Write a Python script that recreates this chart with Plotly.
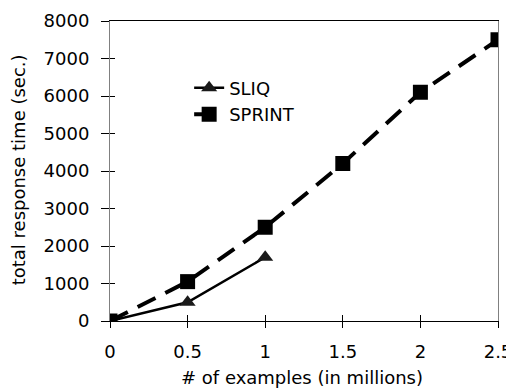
import plotly.graph_objects as go

x_sprint = [0, 0.5, 1, 1.5, 2, 2.5]
y_sprint = [0, 1050, 2500, 4200, 6100, 7500]
x_sliq = [0, 0.5, 1]
y_sliq = [0, 500, 1700]
x_ticks = [0, 0.5, 1, 1.5, 2, 2.5]
x_ticktext = ["0", "0.5", "1", "1.5", "2", "2.5"]
y_ticks = [0, 1000, 2000, 3000, 4000, 5000, 6000, 7000, 8000]

FONT = "DejaVu Sans"

fig = go.Figure()
fig.add_trace(go.Scatter(
    x=x_sliq, y=y_sliq, name="SLIQ", mode="lines+markers",
    line=dict(color="black", width=2.5),
    marker=dict(symbol="triangle-up", size=14, color="#1a1a1a"),
))
fig.add_trace(go.Scatter(
    x=x_sprint, y=y_sprint, name="SPRINT", mode="lines+markers",
    line=dict(color="black", width=4, dash="20px,11px"),
    marker=dict(symbol="square", size=15, color="black"),
))
# invisible trace to carry inside ticks
fig.add_trace(go.Scatter(x=[0], y=[0], xaxis="x2", yaxis="y2",
                         mode="markers", marker=dict(opacity=0),
                         showlegend=False, hoverinfo="skip"))

# page body has an 8px default margin; figure is sized to compensate
fig.update_layout(
    template="none",
    width=506, height=381,
    margin=dict(l=102, r=16, t=13, b=68, pad=0),
    paper_bgcolor="white", plot_bgcolor="white",
    font=dict(family=FONT, size=18, color="black"),
    showlegend=True,
    legend=dict(x=0.204, y=0.838, xanchor="left", yanchor="top",
                bgcolor="rgba(0,0,0,0)",
                font=dict(family=FONT, size=18, color="black")),
    xaxis=dict(range=[0, 2.5], tickvals=x_ticks, ticktext=x_ticktext,
               showgrid=False, zeroline=False, showline=True, automargin=False,
               linecolor="black", linewidth=1, mirror=True,
               ticks="outside", ticklen=6, tickcolor="black", tickwidth=1,
               ticklabelstandoff=8),
    yaxis=dict(range=[0, 8000], tickvals=y_ticks,
               showgrid=False, zeroline=False, showline=True, automargin=False,
               linecolor="#808080", linewidth=1, mirror=True,
               ticks="outside", ticklen=8, tickcolor="black", tickwidth=1,
               ticklabelstandoff=8),
    xaxis2=dict(range=[0, 2.5], tickvals=x_ticks, overlaying="x",
                showticklabels=False, showgrid=False, zeroline=False, automargin=False,
                ticks="inside", ticklen=6, tickcolor="black", tickwidth=1, showline=False),
    yaxis2=dict(range=[0, 8000], tickvals=y_ticks, overlaying="y",
                showticklabels=False, showgrid=False, zeroline=False, automargin=False,
                ticks="inside", ticklen=5, tickcolor="black", tickwidth=1, showline=False),
    annotations=[
        dict(text="# of examples (in millions)", xref="paper", yref="paper",
             x=0.495, y=-0.187, xanchor="center", yanchor="middle",
             showarrow=False, font=dict(family=FONT, size=18)),
        dict(text="total response time (sec.)", xref="paper", yref="paper",
             x=-0.235, y=0.505, xanchor="center", yanchor="middle",
             textangle=-90, showarrow=False, font=dict(family=FONT, size=18)),
    ],
)

fig.write_html("out.html")
